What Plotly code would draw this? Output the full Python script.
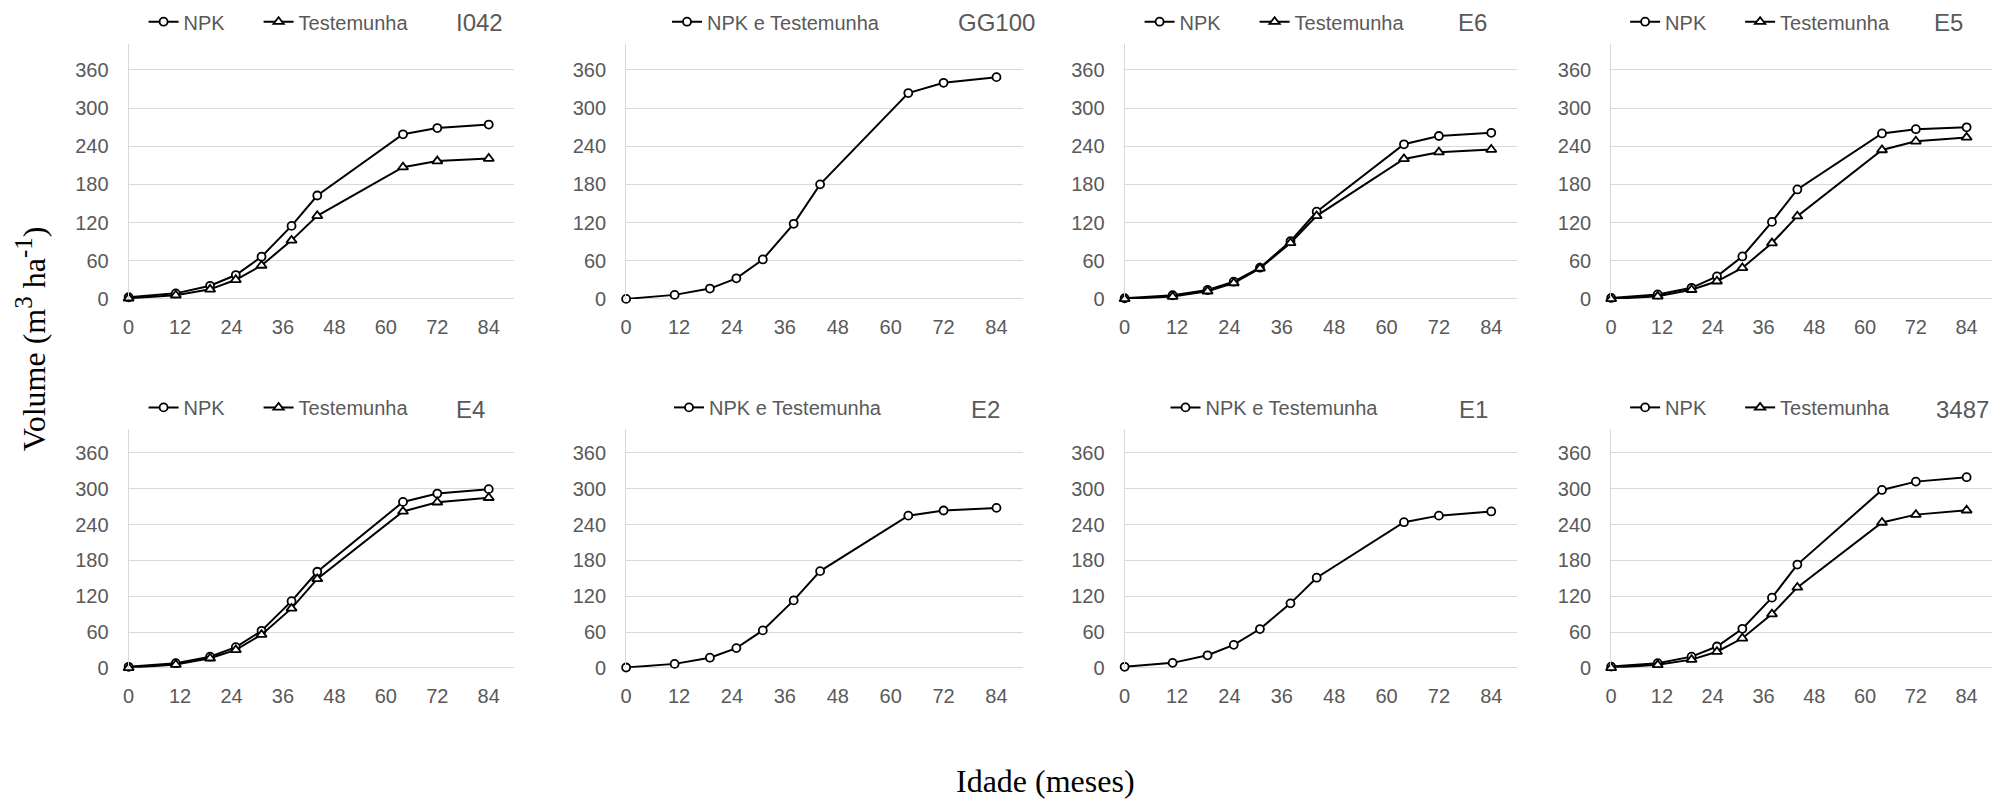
import plotly.graph_objects as go

W, H = 1996, 811

ages = [0, 11, 19, 25, 31, 38, 44, 64, 72, 84]
x_ticks = [0, 12, 24, 36, 48, 60, 72, 84]
y_ticks = [0, 60, 120, 180, 240, 300, 360]

panel_names = ["I042", "GG100", "E6", "E5", "E4", "E2", "E1", "3487"]

i042_npk = [2.6, 8.7, 20.6, 37.5, 66.3, 114.7, 162.5, 258.7, 268.5, 274.0]
i042_test = [1.0, 5.7, 15.0, 30.0, 52.5, 92.0, 130.6, 207.0, 216.6, 220.6]
gg100_both = [0.0, 6.3, 16.2, 32.3, 62.0, 118.0, 180.0, 323.5, 339.6, 348.5]
e6_npk = [1.0, 5.7, 14.0, 27.0, 49.0, 90.6, 137.0, 243.0, 256.0, 261.0]
e6_test = [0.0, 3.6, 12.0, 25.0, 48.0, 88.0, 130.5, 220.0, 230.6, 234.7]
e5_npk = [1.5, 7.0, 17.4, 35.4, 66.7, 121.0, 172.0, 260.0, 266.7, 269.7]
e5_test = [0.0, 4.0, 14.4, 27.7, 48.7, 87.7, 130.0, 234.0, 247.7, 253.8]
e4_npk = [1.7, 7.7, 18.7, 34.7, 62.0, 111.7, 161.0, 278.0, 292.0, 299.4]
e4_test = [0.0, 5.5, 16.0, 30.0, 55.6, 99.6, 149.0, 262.0, 277.4, 285.0]
e2_both = [0.5, 6.6, 17.0, 33.0, 62.7, 113.0, 162.0, 255.0, 263.6, 268.0]
e1_both = [1.7, 8.3, 21.0, 38.5, 65.0, 108.0, 151.0, 244.0, 255.0, 262.0]
p3487_npk = [2.0, 7.7, 18.7, 35.7, 65.4, 117.6, 173.0, 298.0, 312.0, 319.4]
p3487_test = [0.0, 5.0, 13.7, 27.0, 49.5, 90.0, 134.7, 243.5, 256.7, 264.0]

panel_series = [
    [("NPK", i042_npk, "circle"), ("Testemunha", i042_test, "triangle-up")],
    [("NPK e Testemunha", gg100_both, "circle")],
    [("NPK", e6_npk, "circle"), ("Testemunha", e6_test, "triangle-up")],
    [("NPK", e5_npk, "circle"), ("Testemunha", e5_test, "triangle-up")],
    [("NPK", e4_npk, "circle"), ("Testemunha", e4_test, "triangle-up")],
    [("NPK e Testemunha", e2_both, "circle")],
    [("NPK e Testemunha", e1_both, "circle")],
    [("NPK", p3487_npk, "circle"), ("Testemunha", p3487_test, "triangle-up")],
]

# layout geometry (pixels)
col_x = [(123, 510), (622, 1020), (1122, 1516), (1610, 1992)]
row_y = [(45, 303), (435, 677)]
legend_pos = [(138, 22), (663, 22), (1137, 22), (1624, 22),
              (138, 413), (665, 413), (1163, 413), (1624, 413)]
title_pos = [(475, 23), (993, 23), (1471, 23), (1948, 23),
             (466, 415), (982, 415), (1472, 415), (1962, 415)]
entry_w = {"NPK": 70, "Testemunha": 125, "NPK e Testemunha": 200}

GREY = "#595959"
GRID = "#d9d9d9"
SANS = "Liberation Sans, Arial, sans-serif"
SERIF = "Liberation Serif, Times New Roman, serif"

fig = go.Figure()
layout = dict(
    width=W, height=H, margin=dict(l=0, r=0, t=0, b=0),
    paper_bgcolor="white", plot_bgcolor="white", showlegend=True,
    annotations=[],
)

for i in range(8):
    r, c = divmod(i, 4)
    n = i + 1
    xa = "x" if n == 1 else f"x{n}"
    ya = "y" if n == 1 else f"y{n}"
    lg = "legend" if n == 1 else f"legend{n}"
    x0, x1 = col_x[c]
    y0, y1 = row_y[r]
    layout[f"xaxis{'' if n == 1 else n}"] = dict(
        domain=[x0 / W, x1 / W], anchor=ya, range=[0, 90],
        tickmode="array", tickvals=x_ticks, showgrid=False, zeroline=False,
        showline=False, ticks="outside", ticklen=10, tickcolor="rgba(0,0,0,0)",
        tickfont=dict(family=SANS, size=20, color=GREY),
    )
    layout[f"yaxis{'' if n == 1 else n}"] = dict(
        domain=[1 - y1 / H, 1 - y0 / H], anchor=xa, range=[0, 400],
        tickmode="array", tickvals=y_ticks, showgrid=True, gridcolor=GRID,
        gridwidth=1, zeroline=True, zerolinecolor=GRID, zerolinewidth=1,
        showline=True, linecolor=GRID, linewidth=1,
        ticks="outside", ticklen=15, tickcolor="rgba(0,0,0,0)",
        tickfont=dict(family=SANS, size=20, color=GREY),
    )
    lx, ly = legend_pos[i]
    layout[lg] = dict(
        x=lx / W, y=1 - ly / H, xanchor="left", yanchor="middle",
        orientation="h", bgcolor="rgba(0,0,0,0)", borderwidth=0,
        font=dict(family=SANS, size=20, color=GREY), traceorder="normal",
    )
    tx, ty = title_pos[i]
    layout["annotations"].append(dict(
        text=panel_names[i], x=tx / W, y=1 - ty / H, xref="paper", yref="paper",
        xanchor="center", yanchor="middle", showarrow=False,
        font=dict(family=SANS, size=24, color=GREY),
    ))
    for name, vals, sym in panel_series[i]:
        fig.add_trace(go.Scatter(
            x=ages, y=vals, name=name, mode="lines+markers",
            xaxis=xa, yaxis=ya, legend=lg, cliponaxis=False,
            legendwidth=entry_w[name],
            line=dict(color="black", width=2),
            marker=dict(symbol=sym, size=8 if sym == "circle" else 9,
                        color="white", line=dict(color="black", width=1.8)),
        ))

layout["annotations"].append(dict(
    text="Idade (meses)", x=1043 / W, y=1 - 792 / H, xref="paper", yref="paper",
    xanchor="center", yanchor="middle", showarrow=False,
    font=dict(family=SERIF, size=32, color="black"),
))
layout["annotations"].append(dict(
    text=("Volume (m<sup><span style='font-size:25px'>3</span></sup>\u00a0"
          "ha<sup><span style='font-size:25px'>-1</span></sup>)"),
    x=25 / W, y=1 - 343 / H,
    xref="paper", yref="paper", xanchor="center", yanchor="middle",
    showarrow=False, textangle=-90,
    font=dict(family=SERIF, size=32, color="black"),
))

fig.update_layout(**layout)
fig.write_html("out.html")
